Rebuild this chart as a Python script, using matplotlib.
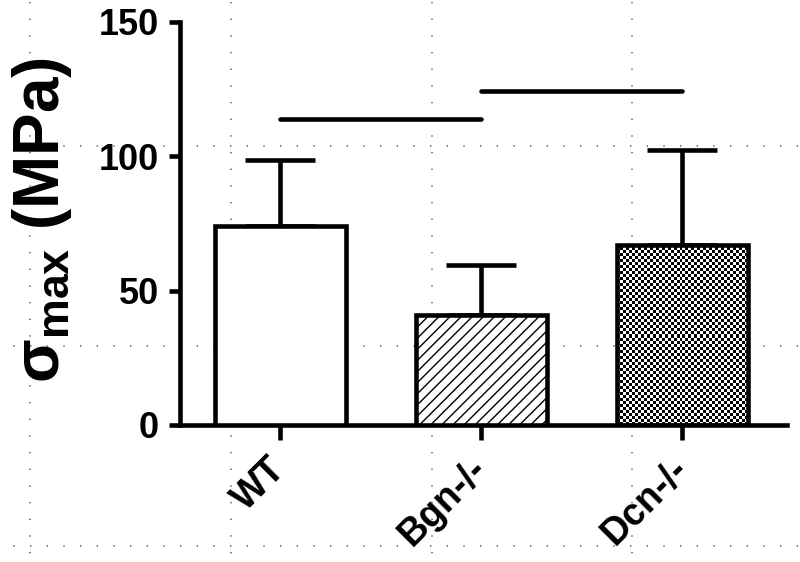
import numpy as np
import matplotlib
matplotlib.use("Agg")
import matplotlib.pyplot as plt
from matplotlib.lines import Line2D

plt.rcParams['font.family'] = ['Liberation Sans', 'DejaVu Sans']
plt.rcParams['font.weight'] = 'bold'
plt.rcParams['mathtext.fontset'] = 'custom'
plt.rcParams['mathtext.rm'] = 'Liberation Sans:bold'
plt.rcParams['mathtext.bf'] = 'Liberation Sans:bold'
plt.rcParams['lines.scale_dashes'] = False
plt.rcParams['hatch.linewidth'] = 1.0

# ---- data ----
categories = ['WT', 'Bgn-/-', 'Dcn-/-']
means = [74, 41, 67]
sd_upper = [24.5, 18.5, 35.5]
sig_pairs = [(0, 1), (1, 2)]
sig_levels = [114, 124.5]
yticks = [0, 50, 100, 150]

W, H = 800, 562
fig = plt.figure(figsize=(W / 100, H / 100), dpi=100)

# background dotted guide grid (figure level)
gx = [30, 231, 432, 632]
gy = [146, 346, 546]
for gxi in gx:
    fig.add_artist(Line2D([gxi / W, gxi / W], [0, 1], transform=fig.transFigure,
                          color='#777777', lw=1.3,
                          linestyle=(((H - 146) % 12.0) * 0.72, (1.0, 11.0)), zorder=0))
for gyi in gy:
    fig.add_artist(Line2D([0, 1], [1 - gyi / H, 1 - gyi / H], transform=fig.transFigure,
                          color='#777777', lw=1.3, linestyle=((12 - (30 * 0.72) % 12), (1.0, 11.0)),
                          zorder=0))

ax = fig.add_axes([180 / W, 1 - 425 / H, (787 - 180) / W, (425 - 22) / H])
ax.patch.set_visible(False)
x = np.arange(len(categories))
ax.set_xlim(-0.5, 2.52)
ax.set_ylim(0, 150)

lw = 3.3
bw = 0.65
ax.errorbar(x, means, yerr=[np.zeros(len(means)), sd_upper], fmt='none', ecolor='black',
            elinewidth=lw, capsize=25, capthick=lw, zorder=1)
bars = ax.bar(x, means, width=bw, color=['white', 'white', 'none'], edgecolor='black',
              linewidth=lw, zorder=3)
bars[1].set_hatch('///')

# checkerboard fill for third bar
fig.canvas.draw()
b = bars[2]
x0, x1 = b.get_x(), b.get_x() + b.get_width()
p0 = ax.transData.transform((x0, 0))
p1 = ax.transData.transform((x1, b.get_height()))
nx = max(1, int(round((p1[0] - p0[0]) / 3.0)))
ny = max(1, int(round((p1[1] - p0[1]) / 3.0)))
chk = (np.indices((ny, nx)).sum(axis=0) % 2).astype(float)
im = ax.imshow(chk, cmap='gray', extent=(x0, x1, 0, b.get_height()), interpolation='nearest',
               aspect='auto', zorder=2, vmin=0, vmax=1)
im.set_clip_path(b)
ax.set_xlim(-0.5, 2.52)
ax.set_ylim(0, 150)

for (a, c), lv in zip(sig_pairs, sig_levels):
    ax.plot([a, c], [lv, lv], color='black', lw=lw, solid_capstyle='round', zorder=4)

for s in ['top', 'right']:
    ax.spines[s].set_visible(False)
for s in ['left', 'bottom']:
    ax.spines[s].set_linewidth(lw)
ax.set_yticks(yticks)
ax.set_xticks(x)
ax.set_xticklabels(categories, rotation=45, ha='right', va='center', rotation_mode='anchor')
ax.tick_params(axis='y', length=8, width=lw, labelsize=26, pad=7)
ax.tick_params(axis='x', length=11, width=lw, labelsize=27, pad=17)
for t in ax.get_xticklabels() + ax.get_yticklabels():
    t.set_fontweight('bold')

fig.text(42 / W, 1 - 220 / H, 'σ$_{\\mathbf{max}}$ (MPa)', rotation=90, ha='center', va='center',
         fontsize=46, fontweight='bold')

fig.savefig('out.png', dpi=100)
